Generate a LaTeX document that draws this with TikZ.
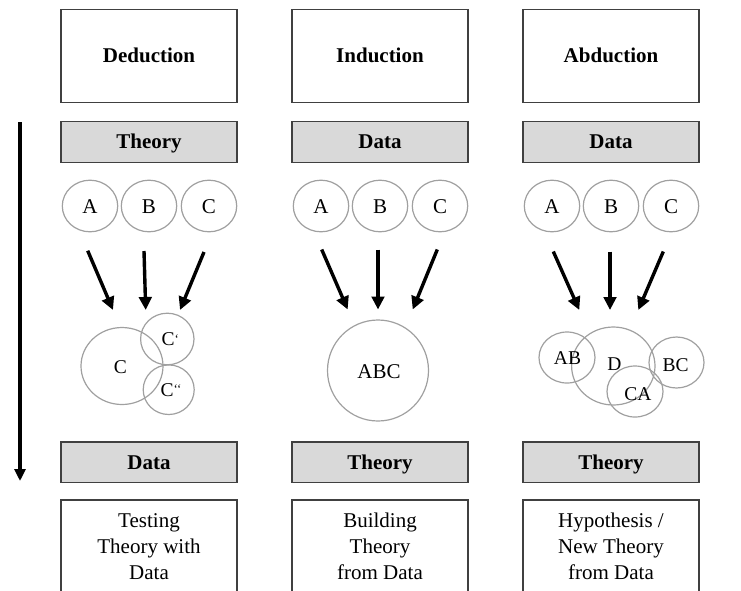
\documentclass[tikz,border=0pt]{standalone}
\usepackage{fontspec}
\setmainfont{Liberation Serif}
\usetikzlibrary{arrows.meta}

\definecolor{boxline}{HTML}{404040}
\definecolor{greyfill}{HTML}{D9D9D9}
\definecolor{ringline}{HTML}{A0A0A0}

\begin{document}
\begin{tikzpicture}[x=1pt,y=-1pt,
  headbox/.style={draw=boxline,line width=1.4pt,minimum width=176pt,minimum height=93pt,
                  inner sep=0pt,text height=13.9pt,text depth=0pt,font=\fontsize{21}{24}\selectfont\bfseries},
  greybox/.style={draw=boxline,fill=greyfill,line width=1.4pt,minimum width=176pt,minimum height=40.5pt,
                  inner sep=0pt,text height=13.9pt,text depth=0pt,font=\fontsize{21}{24}\selectfont\bfseries},
  ringpath/.style={draw=ringline,line width=1.2pt},
  tag/.style={inner sep=0pt,text height=13pt,text depth=0pt,font=\fontsize{19.5}{22}\selectfont},
  bigtag/.style={inner sep=0pt,text height=13.9pt,text depth=0pt,font=\fontsize{21}{24}\selectfont},
  bodytext/.style={inner sep=0pt,anchor=north,align=center,font=\fontsize{21}{26}\selectfont},
  flow/.style={line width=3.4pt,-{Triangle[length=13pt,width=12.5pt]}},
  timeline/.style={line width=3.2pt,-{Triangle[length=12pt,width=11pt]}}
]
\useasboundingbox (0,0) rectangle (741,590);
\clip (0,0) rectangle (741,590);

% ---------- column headings ----------
\node[headbox] (ded-head) at (149,56) {Deduction};
\node[headbox] (ind-head) at (380,56) {Induction};
\node[headbox] (abd-head) at (611,56) {Abduction};

% ---------- starting point ----------
\node[greybox] (ded-start) at (149,142) {Theory};
\node[greybox] (ind-start) at (380,142) {Data};
\node[greybox] (abd-start) at (611,142) {Data};

% ---------- elements A, B, C ----------
\foreach \col/\cx in {ded/149,ind/380,abd/611}{
  \draw[ringpath] (\cx-59,206) ellipse [x radius=27.7pt,y radius=25.8pt];
  \draw[ringpath] (\cx,206) ellipse [x radius=27.7pt,y radius=25.8pt];
  \draw[ringpath] (\cx+60,206) ellipse [x radius=27.7pt,y radius=25.8pt];
  \node[bigtag] (\col-a) at (\cx-59,207) {A};
  \node[bigtag] (\col-b) at (\cx,207) {B};
  \node[bigtag] (\col-c) at (\cx+60,207) {C};
}

% ---------- arrow end points ----------
\coordinate (ded-a-out) at (87.7,250.7);  \coordinate (ded-a-in) at (113,310);
\coordinate (ded-b-out) at (144,251);     \coordinate (ded-b-in) at (145.7,310);
\coordinate (ded-c-out) at (204,252);     \coordinate (ded-c-in) at (180,310);
\coordinate (ind-a-out) at (321.7,249.5); \coordinate (ind-a-in) at (347.7,309.5);
\coordinate (ind-b-out) at (378,249.5);   \coordinate (ind-b-in) at (378,309.5);
\coordinate (ind-c-out) at (437.3,249.5); \coordinate (ind-c-in) at (412.7,309.5);
\coordinate (abd-a-out) at (553.3,251.5); \coordinate (abd-a-in) at (579.3,310);
\coordinate (abd-b-out) at (610,251.5);   \coordinate (abd-b-in) at (610,310);
\coordinate (abd-c-out) at (663.3,251.5); \coordinate (abd-c-in) at (638.3,310);

\foreach \col in {ded,ind,abd}{
  \foreach \e in {a,b,c}{
    \draw[flow] (\col-\e-out) -- (\col-\e-in);
  }
}

% ---------- deduction: C with C' and C'' ----------
\draw[ringpath] (122,366) ellipse [x radius=41pt,y radius=38.5pt];
\draw[ringpath] (167.3,339) ellipse [x radius=26.7pt,y radius=25.8pt];
\draw[ringpath] (168.7,389.7) ellipse [x radius=25.5pt,y radius=24.8pt];
\node[tag] (ded-c0) at (120.5,367) {C};
\node[tag,anchor=west] (ded-c1) at (161.5,339) {C\raisebox{0.25ex}{\fontsize{13}{13}\selectfont‘}};
\node[tag,anchor=west] (ded-c2) at (160.5,389.5) {C\raisebox{0.25ex}{\fontsize{13}{13}\selectfont‘‘}};

% ---------- induction: ABC ----------
\draw[ringpath] (378,370.5) circle [radius=50.5pt];
\node[bigtag] (ind-abc) at (379,371.5) {ABC};

% ---------- abduction: D with AB, BC, CA ----------
\draw[ringpath] (567,357.5) ellipse [x radius=28pt,y radius=25.5pt];
\draw[ringpath] (613.3,366) ellipse [x radius=41.7pt,y radius=39pt];
\draw[ringpath] (676.5,362.5) ellipse [x radius=27.5pt,y radius=25.5pt];
\draw[ringpath] (635,391.5) ellipse [x radius=28pt,y radius=25.5pt];
\node[tag] (abd-ab) at (567.5,357.5) {AB};
\node[tag] (abd-d) at (614.5,364) {D};
\node[tag] (abd-bc) at (675.5,365) {BC};
\node[tag] (abd-ca) at (638,393.5) {CA};

% ---------- outcome ----------
\node[greybox] (ded-end) at (149,462.3) {Data};
\node[greybox] (ind-end) at (380,462.3) {Theory};
\node[greybox] (abd-end) at (611,462.3) {Theory};

\foreach \col/\cx in {ded/149,ind/380,abd/611}{
  \draw[draw=boxline,line width=1.4pt] (\cx-88,600) -- (\cx-88,500) -- (\cx+88,500) -- (\cx+88,600);
}
\node[bodytext] (ded-note) at (149,513) {Testing\\Theory with\\Data};
\node[bodytext] (ind-note) at (380,513) {Building\\Theory\\from Data};
\node[bodytext] (abd-note) at (611,513) {Hypothesis /\\New Theory\\from Data};

% ---------- direction of reasoning ----------
\coordinate (time-top) at (20,122);
\coordinate (time-end) at (20,481);
\draw[timeline] (time-top) -- (time-end);
\end{tikzpicture}
\end{document}
